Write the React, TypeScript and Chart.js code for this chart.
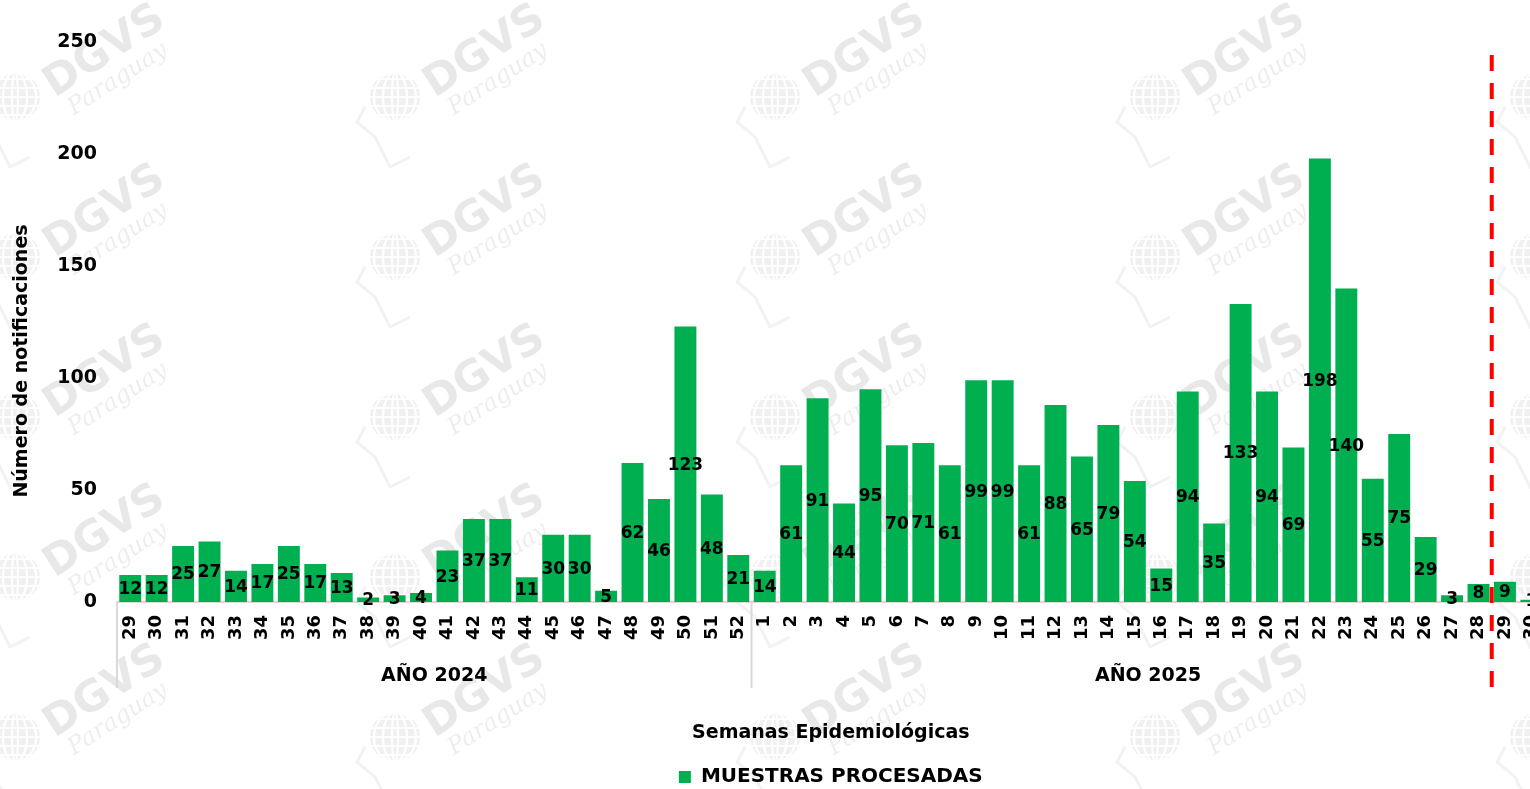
import React, { useEffect, useRef } from "react";
import { Chart, registerables } from "chart.js";

Chart.register(...registerables);

// ---- Data ----
const weeks2024 = ["29", "30", "31", "32", "33", "34", "35", "36", "37", "38", "39", "40", "41", "42", "43", "44", "45", "46", "47", "48", "49", "50", "51", "52"];
const values2024 = [12, 12, 25, 27, 14, 17, 25, 17, 13, 2, 3, 4, 23, 37, 37, 11, 30, 30, 5, 62, 46, 123, 48, 21];
const weeks2025 = ["1", "2", "3", "4", "5", "6", "7", "8", "9", "10", "11", "12", "13", "14", "15", "16", "17", "18", "19", "20", "21", "22", "23", "24", "25", "26", "27", "28", "29", "30"];
const values2025 = [14, 61, 91, 44, 95, 70, 71, 61, 99, 99, 61, 88, 65, 79, 54, 15, 94, 35, 133, 94, 69, 198, 140, 55, 75, 29, 3, 8, 9, 1];
const yearLabels = ["AÑO 2024", "AÑO 2025"];
const yTicks = [0, 50, 100, 150, 200, 250];
const seriesName = "MUESTRAS PROCESADAS";
const xTitle = "Semanas Epidemiológicas";
const yTitle = "Número de notificaciones";
const cutoffWeek2025 = "28"; // dashed line drawn after this week

const categories = [...weeks2024, ...weeks2025];
const values = [...values2024, ...values2025];

const FONT = "'DejaVu Sans', sans-serif";
const GREEN = "#00B050";
const CANVAS_W = 1566;
const CANVAS_H = 797;
const LEGEND_H = 34;

function boundary(x: any, i: number, n: number) {
  if (i <= 0) return x.left;
  if (i >= n) return x.right;
  return (x.getPixelForTick(i - 1) + x.getPixelForTick(i)) / 2;
}

function drawWatermark(ctx: CanvasRenderingContext2D, cx: number, cy: number) {
  // globe
  ctx.save();
  ctx.translate(cx - 90, cy + 45);
  ctx.beginPath();
  ctx.arc(0, 0, 25, 0, Math.PI * 2);
  ctx.fillStyle = "rgba(0,0,0,0.06)";
  ctx.fill();
  ctx.strokeStyle = "rgba(255,255,255,0.9)";
  ctx.lineWidth = 2;
  for (let k = -2; k <= 2; k++) {
    ctx.beginPath();
    ctx.ellipse(0, 0, Math.abs(k) * 9 + 3, 25, 0, 0, Math.PI * 2);
    ctx.stroke();
    ctx.beginPath();
    ctx.moveTo(-25, k * 9);
    ctx.lineTo(25, k * 9);
    ctx.stroke();
  }
  ctx.beginPath();
  ctx.moveTo(-30, 10);
  ctx.lineTo(-38, 25);
  ctx.lineTo(-20, 40);
  ctx.lineTo(-5, 70);
  ctx.lineTo(15, 60);
  ctx.strokeStyle = "rgba(0,0,0,0.05)";
  ctx.lineWidth = 3;
  ctx.stroke();
  ctx.restore();

  ctx.save();
  ctx.translate(cx, cy);
  ctx.rotate((-33 * Math.PI) / 180);
  ctx.textAlign = "center";
  ctx.textBaseline = "middle";
  ctx.fillStyle = "rgba(0,0,0,0.09)";
  ctx.font = "bold 43px " + FONT;
  ctx.fillText("DGVS", 0, 0);
  ctx.fillStyle = "rgba(0,0,0,0.07)";
  ctx.font = "italic 24px 'DejaVu Serif', serif";
  ctx.fillText("Paraguay", -4, 30);
  ctx.restore();
}

const overlayPlugin = {
  id: "overlay",
  beforeDraw(chart: any) {
    const ctx = chart.ctx as CanvasRenderingContext2D;
    for (let col = 0; col < 5; col++) {
      for (let row = 0; row < 5; row++) {
        drawWatermark(ctx, 105 + col * 380, 52 + row * 160);
      }
    }
  },
  afterDatasetsDraw(chart: any) {
    const ctx = chart.ctx as CanvasRenderingContext2D;
    const meta = chart.getDatasetMeta(0);
    const data = chart.data.datasets[0].data as number[];
    ctx.save();
    ctx.fillStyle = "#000";
    ctx.font = "bold 17px " + FONT;
    ctx.textAlign = "center";
    ctx.textBaseline = "middle";
    meta.data.forEach((el: any, i: number) => {
      const yMid = (el.y + el.base) / 2;
      ctx.fillText(String(data[i]), el.x, yMid + 1);
    });
    ctx.restore();
  },
  afterDraw(chart: any) {
    const ctx = chart.ctx as CanvasRenderingContext2D;
    const x = chart.scales.x;
    const y = chart.scales.y;
    const n = categories.length;
    const groups = [
      { label: yearLabels[0], start: 0, end: weeks2024.length },
      { label: yearLabels[1], start: weeks2024.length, end: n },
    ];
    const axisY = y.getPixelForValue(0);
    const lineBottom = axisY + 86;

    ctx.save();
    // group separators
    ctx.strokeStyle = "#d9d9d9";
    ctx.lineWidth = 2;
    groups.forEach((g) => {
      const bx = boundary(x, g.start, n);
      ctx.beginPath();
      ctx.moveTo(bx, axisY);
      ctx.lineTo(bx, lineBottom);
      ctx.stroke();
    });
    // year labels
    ctx.fillStyle = "#000";
    ctx.font = "bold 19px " + FONT;
    ctx.textAlign = "center";
    ctx.textBaseline = "middle";
    groups.forEach((g) => {
      const cx = (boundary(x, g.start, n) + boundary(x, g.end, n)) / 2;
      ctx.fillText(g.label, cx, axisY + 74);
    });
    // y-axis title
    ctx.save();
    ctx.translate(22, 361);
    ctx.rotate(-Math.PI / 2);
    ctx.font = "bold 19px " + FONT;
    ctx.fillText(yTitle, 0, 0);
    ctx.restore();
    // red dashed cut-off line
    const cutIdx = weeks2024.length + weeks2025.indexOf(cutoffWeek2025) + 1;
    const rx = boundary(x, cutIdx, n);
    ctx.strokeStyle = "#FF0000";
    ctx.lineWidth = 4;
    ctx.setLineDash([16, 12]);
    ctx.beginPath();
    ctx.moveTo(rx, y.top + 13);
    ctx.lineTo(rx, lineBottom);
    ctx.stroke();
    ctx.restore();
  },
};

export default function App() {
  const canvasRef = useRef<HTMLCanvasElement | null>(null);

  useEffect(() => {
    document.documentElement.style.overflow = "hidden";
    document.body.style.overflow = "hidden";
    const canvas = canvasRef.current;
    if (!canvas) return;
    const chart = new Chart(canvas, {
      type: "bar",
      data: {
        labels: categories,
        datasets: [
          {
            label: seriesName,
            data: values,
            backgroundColor: GREEN,
            borderWidth: 0,
            barPercentage: 0.83,
            categoryPercentage: 1,
          },
        ],
      },
      options: {
        responsive: false,
        animation: false,
        devicePixelRatio: 1,
        layout: { padding: { top: 42, left: 0, right: 0, bottom: 0 } },
        plugins: {
          legend: {
            position: "bottom",
            fullSize: false,
            labels: {
              boxWidth: 12,
              boxHeight: 12,
              padding: 4,
              color: "#000",
              font: { family: FONT, weight: "bold", size: 20 },
            },
          },
          tooltip: { enabled: false },
        },
        scales: {
          x: {
            type: "category",
            offset: true,
            grid: { display: false, drawTicks: false },
            border: { display: true, color: "#d9d9d9", width: 2 },
            ticks: {
              autoSkip: false,
              minRotation: 90,
              maxRotation: 90,
              padding: 13,
              color: "#000",
              font: { family: FONT, weight: "bold", size: 18 },
            },
            title: {
              display: true,
              text: xTitle,
              color: "#000",
              font: { family: FONT, weight: "bold", size: 19 },
              padding: { top: 0, bottom: 19 },
            },
            afterFit: (s: any) => {
              s.height = s.chart.height - LEGEND_H - 602;
            },
          },
          y: {
            min: 0,
            max: 250,
            grid: { display: false, drawTicks: false },
            border: { display: false },
            ticks: {
              padding: 20,
              color: "#000",
              font: { family: FONT, weight: "bold", size: 19 },
            },
            afterBuildTicks: (s: any) => {
              s.ticks = yTicks.map((v) => ({ value: v }));
            },
            afterFit: (s: any) => {
              s.width = 117;
            },
          },
        },
      },
      plugins: [overlayPlugin],
    } as any);
    return () => chart.destroy();
  }, []);

  return (
    <div style={{ position: "fixed", left: 0, top: 0, width: CANVAS_W, height: CANVAS_H }}>
      <canvas ref={canvasRef} width={CANVAS_W} height={CANVAS_H} style={{ display: "block" }} />
    </div>
  );
}
